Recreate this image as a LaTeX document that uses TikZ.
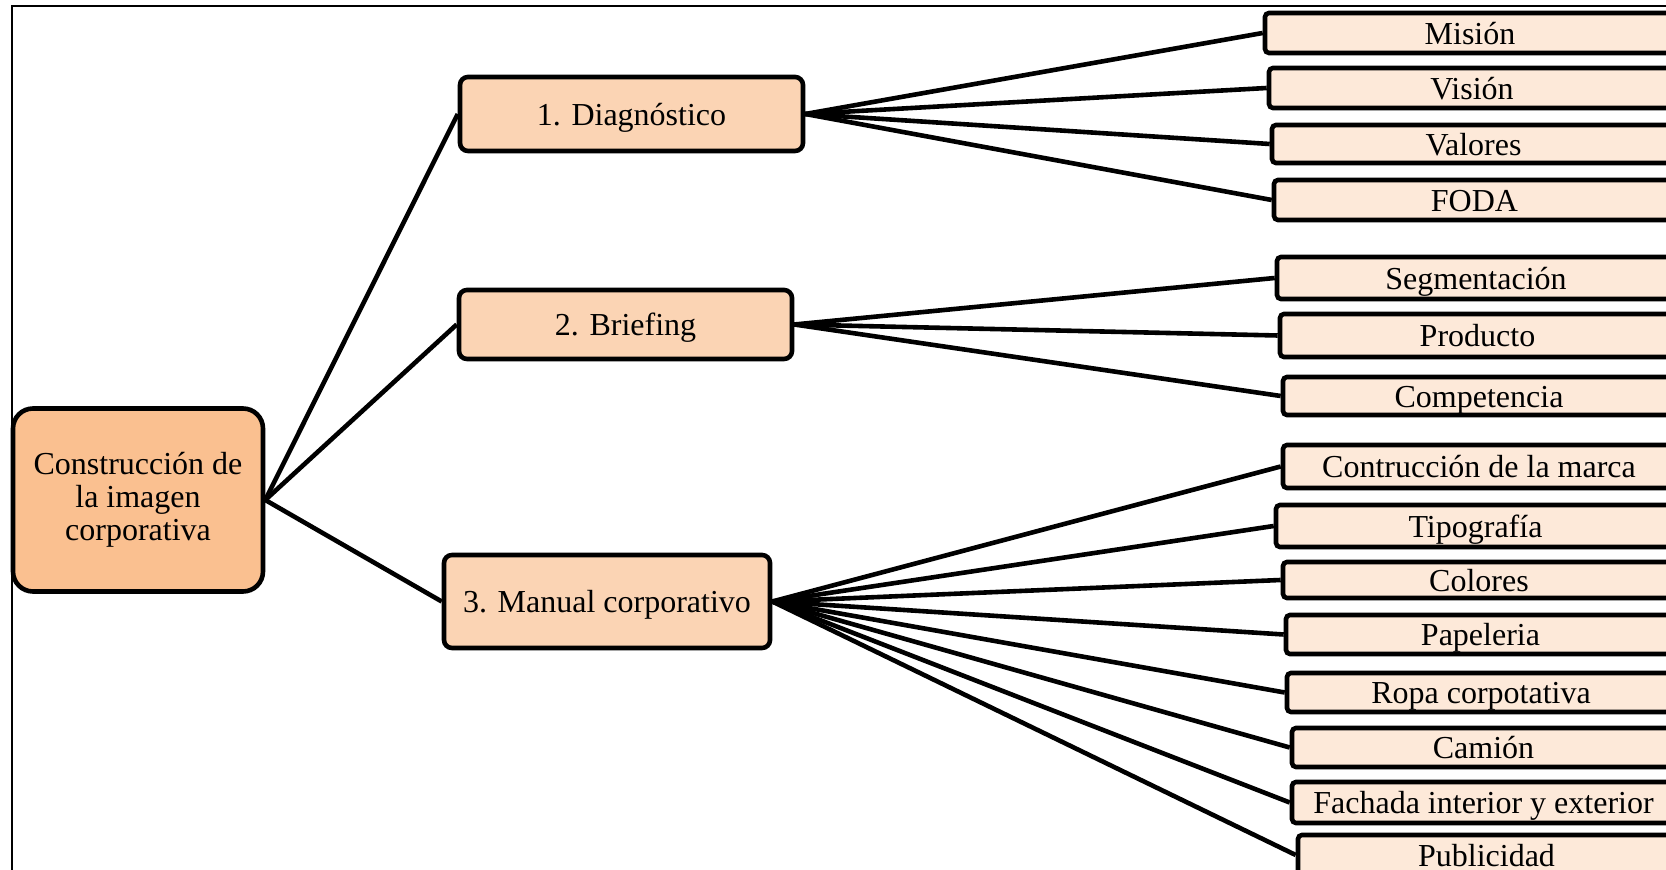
\documentclass[tikz,border=0pt]{standalone}
\usepackage{fontspec}
\setmainfont{Liberation Serif}
\usetikzlibrary{backgrounds}
\definecolor{rootfill}{HTML}{FAC090}
\definecolor{midfill}{HTML}{FBD4B4}
\definecolor{leaffill}{HTML}{FDE9D9}
\tikzset{
  box/.style={draw=black, line width=2.3pt, inner sep=0pt, font=\fontsize{16}{16.5}\selectfont, align=center},
  onebox/.style={box, text height=12.8pt, text depth=1.5pt},
  rootbox/.style={box, fill=rootfill, rounded corners=10pt},
  midbox/.style={onebox, fill=midfill, rounded corners=4pt},
  leafbox/.style={onebox, fill=leaffill, rounded corners=2pt},
  conn/.style={draw=black, line width=2.3pt},
  frameline/.style={draw=black, line width=1pt},
  wh/.style 2 args={minimum width=#1*0.5pt, minimum height=#2*0.5pt}
}
\begin{document}
\begin{tikzpicture}[x=0.5pt, y=-0.5pt]
\useasboundingbox (0,0) rectangle (1666,870);
\coordinate (ftl) at (12,6);
\coordinate (ftr) at (1670,6);
\coordinate (fbl) at (12,875);
\draw[frameline] (ftr) -- (ftl) -- (fbl);

\node[rootbox, wh={250}{183}] (root) at (138,500) {Construcción de\\la imagen\\corporativa};

\node[midbox, wh={343}{74}] (m1) at (631.5,114) {1. Diagnóstico};
\node[midbox, wh={333}{69}] (m2) at (625.5,324.5) {2. Briefing};
\node[midbox, wh={326}{93}] (m3) at (607,601.5) {3. Manual corporativo};

\node[leafbox, wh={410}{40}] (l1) at (1470,33) {Misión};
\node[leafbox, wh={406}{40}] (l2) at (1472,88) {Visión};
\node[leafbox, wh={403}{38}] (l3) at (1473.5,144) {Valores};
\node[leafbox, wh={401}{40}] (l4) at (1474.5,200) {FODA};

\node[leafbox, wh={398}{42}] (s1) at (1476,278) {Segmentación};
\node[leafbox, wh={395}{43}] (s2) at (1477.5,335.5) {Producto};
\node[leafbox, wh={392}{38}] (s3) at (1479,396) {Competencia};

\node[leafbox, wh={392}{43}] (c1) at (1479,466.5) {Contrucción de la marca};
\node[leafbox, wh={399}{42}] (c2) at (1475.5,526) {Tipografía};
\node[leafbox, wh={392}{36}] (c3) at (1479,580) {Colores};
\node[leafbox, wh={389}{39}] (c4) at (1480.5,634.5) {Papeleria};
\node[leafbox, wh={388}{39}] (c5) at (1481,692.5) {Ropa corpotativa};
\node[leafbox, wh={383}{39}] (c6) at (1483.5,747.5) {Camión};
\node[leafbox, wh={383}{41}] (c7) at (1483.5,802.5) {Fachada interior y exterior};
\node[leafbox, wh={377}{40}] (c8) at (1486.5,855) {Publicidad};

\begin{scope}[on background layer]
\foreach \m in {m1,m2,m3} \draw[conn] (root.east) -- (\m.west);
\foreach \l in {l1,l2,l3,l4} \draw[conn] (m1.east) -- (\l.west);
\foreach \l in {s1,s2,s3} \draw[conn] (m2.east) -- (\l.west);
\foreach \l in {c1,c2,c3,c4,c5,c6,c7,c8} \draw[conn] (m3.east) -- (\l.west);
\end{scope}
\end{tikzpicture}
\end{document}
